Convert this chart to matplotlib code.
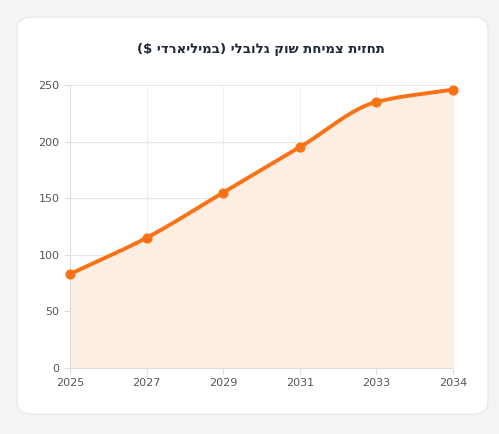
import matplotlib
matplotlib.use("Agg")
import matplotlib.pyplot as plt
from matplotlib.patches import FancyBboxPatch
import numpy as np

years = ["2025", "2027", "2029", "2031", "2033", "2034"]
values = [83, 115, 155, 195, 235, 246]
title = "($ ידראילימב) ילבולג קוש תחימצ תיזחת"  # visual order of: תחזית צמיחת שוק גלובלי (במיליארדי $)

def monotone(x, y, n=40):
    x = np.asarray(x, float); y = np.asarray(y, float)
    h = np.diff(x); d = np.diff(y) / h
    m = np.zeros_like(y)
    m[0], m[-1] = d[0], d[-1]
    for i in range(1, len(y) - 1):
        if d[i-1] * d[i] <= 0:
            m[i] = 0
        else:
            m[i] = 3 * (h[i-1] + h[i]) / ((2*h[i] + h[i-1]) / d[i-1] + (h[i] + 2*h[i-1]) / d[i])
    xs, ys = [], []
    for i in range(len(h)):
        t = np.linspace(0, 1, n)
        h00 = 2*t**3 - 3*t**2 + 1; h10 = t**3 - 2*t**2 + t
        h01 = -2*t**3 + 3*t**2; h11 = t**3 - t**2
        xs.append(x[i] + t*h[i])
        ys.append(h00*y[i] + h10*h[i]*m[i] + h01*y[i+1] + h11*h[i]*m[i+1])
    return np.concatenate(xs), np.concatenate(ys)

fig = plt.figure(figsize=(4.99, 4.34), dpi=100)
fig.patch.set_facecolor("#f3f4f6")
card = FancyBboxPatch((17/499, 20/434), 471/499, 397/434,
                      boxstyle="round,pad=0,rounding_size=0.03", transform=fig.transFigure,
                      facecolor="white", edgecolor="#e5e7eb", linewidth=0.8, zorder=-10)
fig.patches.append(card)

ax = fig.add_axes([70/499, 66/434, 383/499, 283/434], zorder=5)
x = np.arange(len(years))
cx, cy = monotone(x, values)
ax.fill_between(cx, cy, 0, color="#fdeee3", zorder=1)
ax.plot(cx, cy, color="#f97316", lw=2.8, zorder=3)
ax.scatter(x, values, s=40, color="#f97316", zorder=4, clip_on=False)
ax.set_xlim(0, len(years) - 1)
ax.set_ylim(0, 250)
ax.set_xticks(x, years)
ax.set_yticks(range(0, 251, 50))
ax.grid(axis="y", color="#e5e7eb", lw=0.8)
ax.grid(axis="x", color="#eeeeee", lw=0.6)
ax.set_axisbelow(True)
for s in ["top", "right"]:
    ax.spines[s].set_visible(False)
for s in ["left", "bottom"]:
    ax.spines[s].set_color("#dddddd")
ax.tick_params(colors="#555555", labelsize=8, length=4)
ax.tick_params(axis="both", color="#dddddd")
ax.set_facecolor("none")
fig.text(261/499, 1 - 50/434, title, ha="center", va="center", fontsize=9.5,
         fontweight="bold", color="#1f2937", family=["DejaVu Sans"], zorder=6)
fig.savefig("out.png", dpi=100, facecolor=fig.get_facecolor())
